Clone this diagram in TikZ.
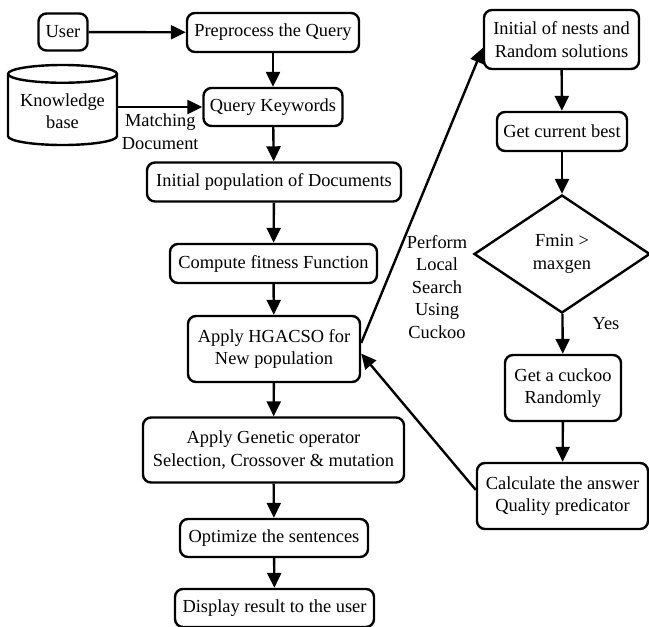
\documentclass[tikz,border=0pt]{standalone}
\usepackage{fontspec}
\setmainfont{Liberation Serif}
\usetikzlibrary{arrows.meta,shapes.geometric}
\tikzset{
 box/.style={draw,line width=1.2pt,rounded corners=4pt,align=center,inner sep=1pt},
 link/.style={line width=1.2pt,-{Triangle[length=7.5pt,width=7pt]}}
}
\begin{document}
\begin{tikzpicture}[x=0.5pt,y=-0.5pt,font=\fontsize{9.2}{11.3}\selectfont]
\useasboundingbox (0,0) rectangle (649,627);

% left column
\node[box,minimum width=24.5pt,minimum height=18.5pt] (user) at (63,32) {User};
\node[box,minimum width=86pt,minimum height=19.5pt] (pre) at (273,32.5) {Preprocess the Query};
\node[draw,line width=1.2pt,cylinder,shape border rotate=90,aspect=0.2,minimum width=54.5pt,minimum height=40pt,align=center,inner sep=1pt,anchor=shape center] (kb) at (62.5,105) {Knowledge\\base};
\node[box,minimum width=69.5pt,minimum height=19pt] (qk) at (273,107) {Query Keywords};
\node[box,minimum width=127pt,minimum height=19.5pt] (init) at (274,182) {Initial population of Documents};
\node[box,minimum width=103.5pt,minimum height=19.5pt] (fit) at (273.5,263.5) {Compute fitness Function};
\node[box,minimum width=86pt,minimum height=33pt] (hga) at (274,349) {Apply HGACSO for\\New population};
\node[box,minimum width=130.5pt,minimum height=32.5pt] (gen) at (273.5,450) {Apply Genetic operator\\Selection, Crossover \& mutation};
\node[box,minimum width=94pt,minimum height=19pt] (opt) at (274,538) {Optimize the sentences};
\node[box,minimum width=99.5pt,minimum height=19pt] (disp) at (274.5,608) {Display result to the user};

% right column
\node[box,minimum width=77.5pt,minimum height=29.5pt] (nests) at (561.5,39.5) {Initial of nests and\\Random solutions};
\node[box,minimum width=65pt,minimum height=19.5pt] (best) at (562,131.5) {Get current best};
\node[draw,line width=1.2pt,diamond,minimum width=88pt,minimum height=59pt,inner sep=0pt,align=center] (test) at (562,254) {Fmin >\\maxgen};
\node[box,minimum width=58pt,minimum height=33pt] (cuckoo) at (563,388) {Get a cuckoo\\Randomly};
\node[box,minimum width=85.5pt,minimum height=33pt] (calc) at (562.5,496) {Calculate the answer\\Quality predicator};

\node (yes) at (606,324) {Yes};
\node[align=center] (perf) at (437,287) {Perform\\Local\\Search\\Using\\Cuckoo};

\draw[link] (user) -- (pre);
\draw[link] (pre) -- (qk);
\draw[link] (kb.east |- qk) -- node[below,align=center,inner sep=3pt] (match) {Matching\\Document} (qk);
\draw[link] (qk) -- (init);
\draw[link] (init) -- (fit);
\draw[link] (fit) -- (hga);
\draw[link] (hga) -- (gen);
\draw[link] (gen) -- (opt);
\draw[link] (opt) -- (disp);

\draw[link] (nests) -- (best);
\draw[link] (best) -- (test);
\draw[link] (test) -- (cuckoo);
\draw[link] (cuckoo) -- (calc);
\draw[link] (hga.4) -- (nests.186);
\draw[link] (calc.176) -- (hga.-3);
\end{tikzpicture}
\end{document}
